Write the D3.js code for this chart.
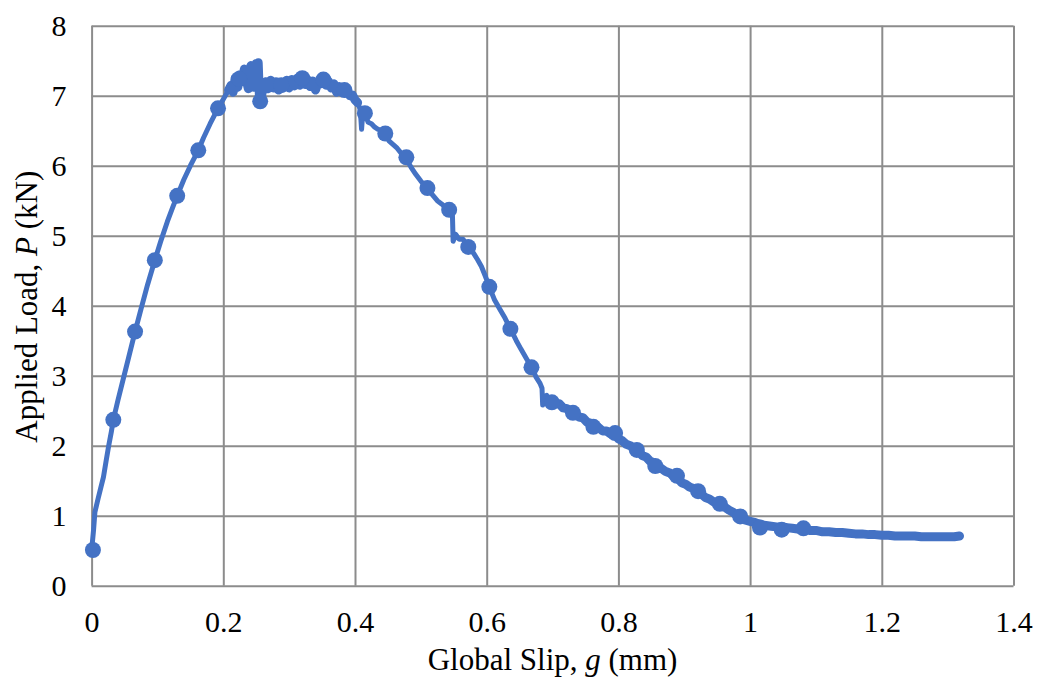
<!DOCTYPE html>
<html><head><meta charset="utf-8">
<script src="https://cdn.jsdelivr.net/npm/d3@7"></script>
<style>
html,body{margin:0;padding:0;background:#fff;}
svg text{font-family:"Liberation Serif","Times New Roman",serif;fill:#000;}
</style></head>
<body>
<svg id="chart" width="1037" height="681"></svg>
<script>
// ---- data ----
const xTicks = [0, 0.2, 0.4, 0.6, 0.8, 1, 1.2, 1.4];
const yTicks = [0, 1, 2, 3, 4, 5, 6, 7, 8];

// dense load–slip trace [slip mm, load kN]
const curveSlip = [
0.000,0.003,0.005,0.010,0.014,0.018,0.022,0.026,0.030,0.033,0.040,0.048,0.056,0.066,0.075,0.085,0.096,0.105,0.115,0.123,0.130,0.140,0.150,0.162,0.170,0.180,0.192,0.200,0.208,
0.212,0.215,0.218,0.222,0.225,0.228,0.232,0.235,0.238,0.240,0.242,0.244,0.246,0.248,0.250,0.252,0.253,0.254,0.255,0.257,0.259,0.262,
0.265,0.268,0.272,0.276,0.280,0.284,0.288,0.292,0.296,0.300,0.304,0.308,0.312,0.316,0.320,0.324,0.328,0.332,0.336,0.340,0.344,0.348,0.352,0.356,0.360,0.364,0.368,0.372,0.376,0.380,0.384,0.388,0.392,0.396,0.400,0.404,0.408,0.410,0.412,0.415,
0.420,0.425,0.430,0.435,0.440,0.446,0.452,0.458,0.464,0.470,0.478,0.485,0.492,0.500,0.510,0.518,0.525,0.532,0.538,0.543,0.548,0.549,0.553,0.558,0.564,0.572,0.580,0.586,0.592,0.598,0.604,0.612,0.620,0.628,0.636,0.645,0.652,0.660,0.668,0.675,0.681,0.684,0.685,0.688,0.691,0.695,0.700,
0.705,0.710,0.716,0.722,0.728,0.734,0.740,0.746,0.752,0.758,0.764,0.770,0.776,0.782,0.788,0.795,0.800,0.806,0.812,0.818,0.824,0.830,0.836,0.842,0.848,0.855,0.860,0.866,0.872,0.878,0.884,0.890,0.896,0.902,0.908,0.914,0.920,0.926,0.932,0.938,0.944,0.950,0.956,0.962,0.968,0.974,0.980,0.986,0.992,1.000,
1.008,1.016,1.024,1.032,1.040,1.048,1.056,1.064,1.072,1.080,1.090,1.100,1.110,1.120,1.130,1.140,1.150,1.160,1.170,1.180,1.190,1.200,1.210,1.220,1.230,1.240,1.250,1.260,1.270,1.280,1.290,1.300,1.310,1.318
];
const curveLoad = [
0.50,0.80,1.05,1.25,1.40,1.55,1.78,2.00,2.20,2.37,2.65,2.95,3.25,3.63,3.95,4.30,4.65,4.92,5.20,5.40,5.57,5.80,6.00,6.22,6.40,6.60,6.82,6.95,7.08,
7.15,7.05,7.25,7.12,7.30,7.20,7.38,7.22,7.10,7.36,7.43,7.28,7.12,7.40,7.46,7.30,7.47,7.20,6.95,6.92,7.05,7.15,
7.20,7.10,7.22,7.11,7.20,7.08,7.19,7.12,7.22,7.11,7.23,7.14,7.25,7.15,7.26,7.16,7.23,7.13,7.21,7.08,7.19,7.17,7.25,7.15,7.20,7.11,7.17,7.05,7.13,7.09,7.05,7.07,7.00,7.01,6.94,6.90,6.80,6.52,6.78,6.75,
6.62,6.60,6.55,6.52,6.50,6.45,6.35,6.30,6.25,6.18,6.10,5.98,5.88,5.78,5.67,5.58,5.50,5.45,5.40,5.37,5.28,4.92,5.02,4.95,4.95,4.84,4.75,4.66,4.56,4.42,4.27,4.08,3.95,3.82,3.67,3.50,3.38,3.25,3.12,2.98,2.89,2.82,2.58,2.70,2.72,2.62,2.66,
2.60,2.60,2.54,2.53,2.47,2.46,2.41,2.40,2.34,2.32,2.26,2.26,2.21,2.21,2.17,2.16,2.10,2.07,2.02,2.00,1.95,1.94,1.86,1.84,1.78,1.75,1.68,1.67,1.63,1.61,1.56,1.54,1.47,1.45,1.41,1.39,1.33,1.31,1.26,1.24,1.20,1.18,1.14,1.12,1.08,1.05,1.00,0.98,0.94,0.92,
0.90,0.87,0.86,0.85,0.84,0.83,0.83,0.82,0.81,0.80,0.79,0.79,0.77,0.77,0.76,0.76,0.75,0.74,0.74,0.73,0.73,0.72,0.72,0.71,0.71,0.71,0.71,0.70,0.70,0.70,0.70,0.70,0.70,0.71
];

// marker points (every ~0.032 mm)
const markSlip = [0.002,0.033,0.066,0.096,0.130,0.162,0.192,0.224,0.256,0.288,0.320,0.352,0.384,0.415,0.446,0.478,0.510,0.543,0.572,0.604,0.636,0.668,0.699,0.731,0.762,0.795,0.828,0.856,0.889,0.921,0.954,0.985,1.015,1.048,1.081];
const markLoad = [0.51,2.37,3.63,4.65,5.57,6.22,6.82,7.24,6.92,7.15,7.25,7.23,7.08,6.75,6.46,6.12,5.68,5.37,4.84,4.27,3.67,3.12,2.62,2.47,2.27,2.18,1.94,1.71,1.57,1.35,1.17,0.99,0.83,0.80,0.82];

// noisier stretches of the record (slip ranges, mm)
const plateauRange = [0.205, 0.405];
const tailRange = [0.70, 1.318];

const xTitle = "Global Slip, ";
const yTitle = "Applied Load, ";

// ---- drawing ----
const svg = d3.select("#chart");
const L = 91.6, R = 1013.5, T = 25.7, B = 585.7;
const x = d3.scaleLinear().domain([0, 1.4]).range([L, R]);
const y = d3.scaleLinear().domain([0, 8]).range([B, T]);
const grid = "#8c8c8c", blue = "#4472C4";
const FS = 30;

svg.append("g").attr("transform", `translate(0,${B})`)
  .call(d3.axisBottom(x).tickValues(xTicks).tickSize(-(B - T)).tickFormat(d => String(d)).tickPadding(25))
  .call(g => g.select(".domain").remove())
  .call(g => g.selectAll("line").attr("stroke", grid).attr("stroke-width", 2))
  .call(g => g.selectAll("text").attr("font-size", FS).attr("font-family", "Liberation Serif").attr("fill", "#000"));

svg.append("g").attr("transform", `translate(${L},0)`)
  .call(d3.axisLeft(y).tickValues(yTicks).tickSize(-(R - L)).tickFormat(d => String(d)).tickPadding(25))
  .call(g => g.select(".domain").remove())
  .call(g => g.selectAll("line").attr("stroke", grid).attr("stroke-width", 2))
  .call(g => g.selectAll("text").attr("font-size", FS).attr("font-family", "Liberation Serif").attr("fill", "#000"));

// curve
const pts = curveSlip.map((s, i) => [s, curveLoad[i]]);
const line = d3.line().x(d => x(d[0])).y(d => y(d[1]));
function drawPath(data, w) {
  svg.append("path").datum(data)
    .attr("fill", "none").attr("stroke", blue).attr("stroke-width", w)
    .attr("stroke-linejoin", "round").attr("stroke-linecap", "round")
    .attr("d", line);
}
drawPath(pts, 5);
drawPath(pts.filter(d => d[0] >= plateauRange[0] && d[0] <= plateauRange[1]), 9);
drawPath(pts.filter(d => d[0] >= tailRange[0] && d[0] <= tailRange[1]), 9);

// markers
svg.append("g").selectAll("circle")
  .data(markSlip.map((s, i) => [s, markLoad[i]]))
  .join("circle")
  .attr("cx", d => x(d[0])).attr("cy", d => y(d[1])).attr("r", 8)
  .attr("fill", blue);

// axis titles
const xt = svg.append("text").attr("x", (L + R) / 2).attr("y", 670)
  .attr("text-anchor", "middle").attr("font-size", 31);
xt.append("tspan").text(xTitle);
xt.append("tspan").attr("font-style", "italic").text("g");
xt.append("tspan").text(" (mm)");

const yt = svg.append("text")
  .attr("transform", `translate(37,${(T + B) / 2 + 1}) rotate(-90)`)
  .attr("text-anchor", "middle").attr("font-size", 31);
yt.append("tspan").text(yTitle);
yt.append("tspan").attr("font-style", "italic").text("P");
yt.append("tspan").text(" (kN)");
</script>
</body></html>
